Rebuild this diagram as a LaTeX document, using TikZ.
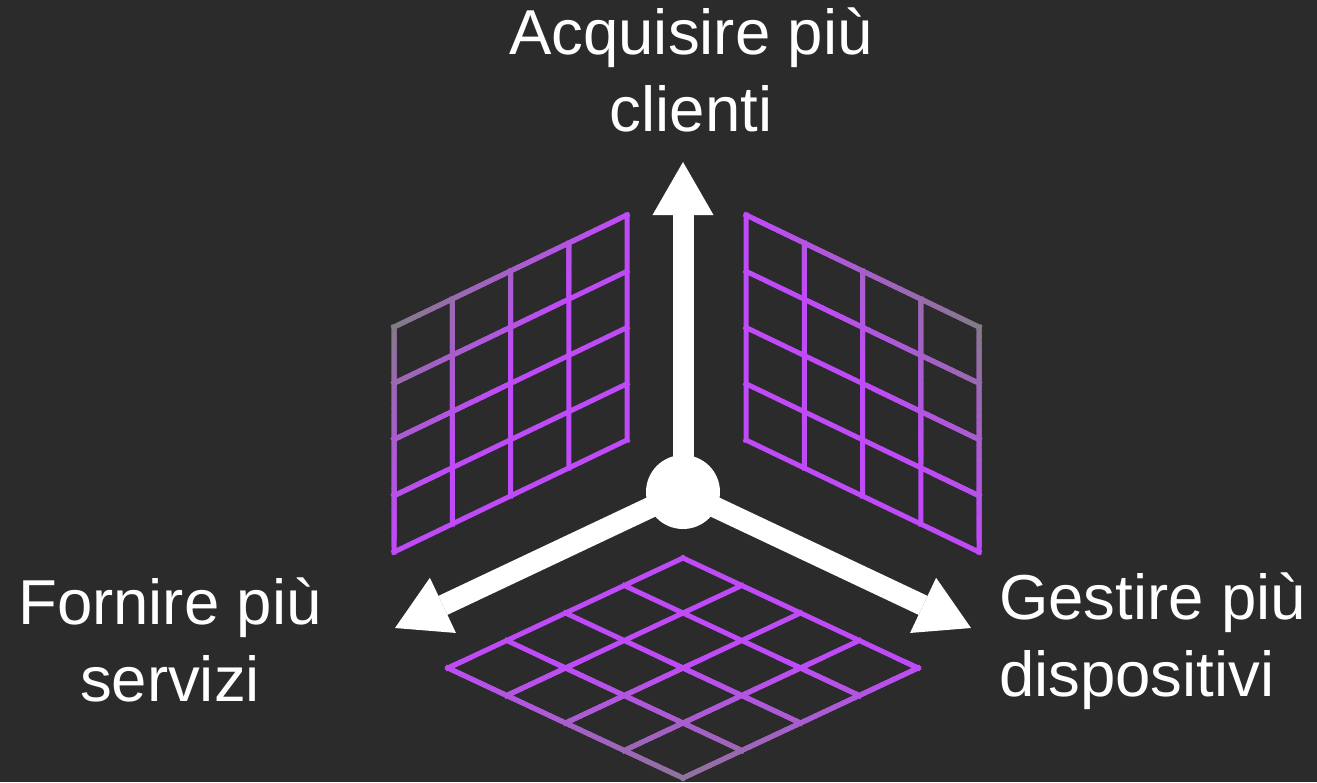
\documentclass[tikz,border=0pt]{standalone}
\usepackage{fontspec}
\setmainfont{Liberation Sans}
\usetikzlibrary{arrows.meta}
\definecolor{bg}{HTML}{2B2B2B}
\definecolor{gpurple}{HTML}{BF4BF8}
\definecolor{ggray}{HTML}{7F7F7F}
\def\hw{2.5}
% clip to the strokes of a 4x4 grid: origin (#1,#2), edge vectors U=(#3,#4), V=(#5,#6)
\newcommand\gridclip[6]{%
  \pgfmathsetmacro\gUL{veclen(#3,#4)}%
  \pgfmathsetmacro\gVL{veclen(#5,#6)}%
  \pgfmathsetmacro\uex{(#3)/\gUL*\hw}\pgfmathsetmacro\uey{(#4)/\gUL*\hw}%
  \pgfmathsetmacro\unx{-(#4)/\gUL*\hw}\pgfmathsetmacro\uny{(#3)/\gUL*\hw}%
  \pgfmathsetmacro\vex{(#5)/\gVL*\hw}\pgfmathsetmacro\vey{(#6)/\gVL*\hw}%
  \pgfmathsetmacro\vnx{-(#6)/\gVL*\hw}\pgfmathsetmacro\vny{(#5)/\gVL*\hw}%
  \clip
  \foreach \i in {0,...,4}{
    ({#1+\i/4*(#3)-(\vex)+(\vnx)},{#2+\i/4*(#4)-(\vey)+(\vny)}) --
    ({#1+\i/4*(#3)+(#5)+(\vex)+(\vnx)},{#2+\i/4*(#4)+(#6)+(\vey)+(\vny)}) --
    ({#1+\i/4*(#3)+(#5)+(\vex)-(\vnx)},{#2+\i/4*(#4)+(#6)+(\vey)-(\vny)}) --
    ({#1+\i/4*(#3)-(\vex)-(\vnx)},{#2+\i/4*(#4)-(\vey)-(\vny)}) -- cycle
  }
  \foreach \i in {0,...,4}{
    ({#1+\i/4*(#5)-(\uex)+(\unx)},{#2+\i/4*(#6)-(\uey)+(\uny)}) --
    ({#1+\i/4*(#5)+(#3)+(\uex)+(\unx)},{#2+\i/4*(#6)+(#4)+(\uey)+(\uny)}) --
    ({#1+\i/4*(#5)+(#3)+(\uex)-(\unx)},{#2+\i/4*(#6)+(#4)+(\uey)-(\uny)}) --
    ({#1+\i/4*(#5)-(\uex)-(\unx)},{#2+\i/4*(#6)-(\uey)-(\uny)}) -- cycle
  };%
}
% gradient strips: gray at local x=0, purple from local x=#1 on
\newcommand\gridfade[1]{%
  \fill[ggray] (-200,-500) rectangle (0,500);
  \foreach \k in {0,...,29}{%
    \pgfmathsetmacro\pc{100*(\k/29)^0.75}%
    \fill[gpurple!\pc!ggray] ({\k*#1/30},-500) rectangle ({(\k+1)*#1/30+0.6},500);
  }%
}
\tikzset{
  lbl/.style={text=white, font=\fontsize{63.5}{77}\selectfont, inner sep=0pt},
  axisarrow/.style={draw=white, line width=21pt,
    -{Triangle[length=53pt,width=61pt,line width=0pt]}},
  hubdot/.style={circle, fill=white, minimum size=74pt, inner sep=0pt}
}
\begin{document}
\begin{tikzpicture}[x=1pt,y=-1pt]
\fill[bg] (0,0) rectangle (1317,782);
\useasboundingbox (0,0) rectangle (1317,782);

% left wall grid
\begin{scope}
  \gridclip{394}{552}{233}{-112}{0}{-225}
  \fill[gpurple] (370,190) rectangle (650,580);
  \begin{scope}[shift={(393,326)},rotate=-35]
    \gridfade{125}
  \end{scope}
\end{scope}

% right wall grid
\begin{scope}
  \gridclip{746}{440}{233}{112}{0}{-225}
  \fill[gpurple] (720,190) rectangle (1000,580);
  \begin{scope}[shift={(980,326)},rotate=-145]
    \gridfade{125}
  \end{scope}
\end{scope}

% floor grid
\begin{scope}
  \gridclip{683}{778}{235}{-110}{-235}{-110}
  \fill[gpurple] (430,540) rectangle (940,790);
  \begin{scope}[shift={(683,795)},rotate=90]
    \gridfade{135}
  \end{scope}
\end{scope}

% axes
\coordinate (c) at (683,492);
\coordinate (tipU) at (683,162);
\coordinate (tipL) at (395,628);
\coordinate (tipR) at (971,628);
\draw[axisarrow] (c) -- (tipU);
\draw[axisarrow] (c) -- (tipL);
\draw[axisarrow] (c) -- (tipR);
\node[hubdot] (hub) at (c) {};

% labels (base anchor = baseline of the last line)
\node[lbl, align=center, anchor=base] (lblU) at (691,131) {Acquisire più\\clienti};
\node[lbl, align=center, anchor=base] (lblL) at (170,701) {Fornire più\\servizi};
\node[lbl, align=left, anchor=base west] (lblR) at (999,696) {Gestire più\\dispositivi};
\end{tikzpicture}
\end{document}
